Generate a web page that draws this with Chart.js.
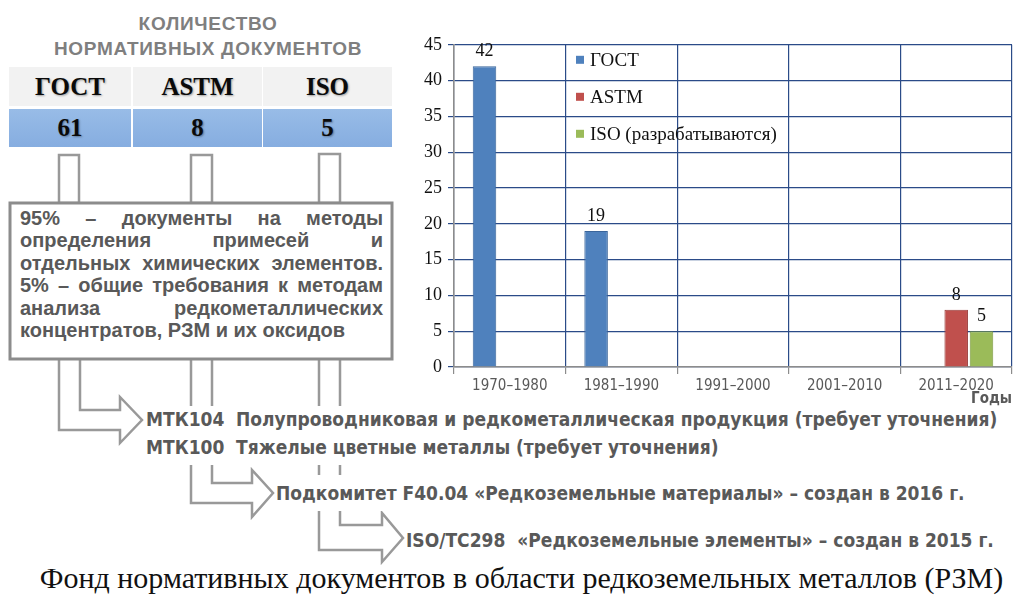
<!DOCTYPE html>
<html>
<head>
<meta charset="utf-8">
<script src="https://cdn.jsdelivr.net/npm/chart.js@4.4.0/dist/chart.umd.min.js"></script>
<style>
  html, body { margin: 0; padding: 0; background: #fff; }
  body { width: 1013px; height: 597px; position: relative; overflow: hidden; font-family: 'Liberation Sans', Arial, sans-serif; }
  #title { position: absolute; left: 0; top: 11px; width: 416px; text-align: center; font-weight: bold; font-size: 19px; line-height: 25px; color: #7f7f7f; letter-spacing: 0.7px; }
  .cell { position: absolute; text-align: center; font-family: 'Liberation Serif', 'Times New Roman', serif; font-weight: bold; font-size: 25px; color: #0a0a0a; text-shadow: 1px 1px 2px rgba(0,0,0,0.35); }
  .hd { top: 67px; height: 39px; line-height: 39px; background: #f2f2f2; }
  .vl { top: 109px; height: 38px; line-height: 38px; background: linear-gradient(#98bce7, #86ade0); }
  #pipes { position: absolute; left: 0; top: 0; z-index: 1; }
  #box { position: absolute; left: 20px; top: 207px; width: 363px; z-index: 2; font-weight: bold; font-size: 20px; line-height: 22.4px; color: #595959; }
  #box div { text-align: justify; text-align-last: justify; }
  #box div.last { text-align-last: left; }
  .nar { position: absolute; z-index: 2; background: #fff; white-space: nowrap; color: #595959; font-weight: bold; font-size: 19px;
         font-family: 'Liberation Sans Narrow', 'DejaVu Sans Condensed', 'Liberation Sans', sans-serif; font-stretch: condensed; }
  .k { display: inline-block; width: 90px; }
  #chartBox { position: absolute; left: 410px; top: 28px; width: 603px; height: 380px; z-index: 3; }
  #caption { position: absolute; left: 30px; top: 560px; width: 983px; text-align: center; font-family: 'Liberation Serif', 'Times New Roman', serif; font-size: 30px; line-height: 36px; color: #111; }
</style>
</head>
<body>
<div id="title">КОЛИЧЕСТВО<br>НОРМАТИВНЫХ ДОКУМЕНТОВ</div>
<div id="table"></div>

<svg id="pipes" width="1013" height="597">
  <g fill="#fff" stroke="#999" stroke-width="2.5">
    <rect x="59" y="155" width="20" height="48"/>
    <rect x="191" y="155" width="21" height="48"/>
    <rect x="319" y="154" width="21" height="49"/>
    <polyline points="319,358 319,550 382,550 382,562 403,538 382,513 382,525 340,525 340,358"/>
    <polyline points="191,358 191,503 252,503 252,517 273,493 252,470 252,483 212,483 212,358"/>
    <polyline points="59,358 59,430 120,430 120,443 142,420 120,397 120,410 80,410 80,358"/>
  </g>
  <rect x="10" y="203" width="382" height="156" fill="#fff" stroke="#8c8c8c" stroke-width="3"/>
</svg>

<div id="box">
  <div>95% – документы на методы</div>
  <div>определения примесей и</div>
  <div>отдельных химических элементов.</div>
  <div>5% – общие требования к методам</div>
  <div>анализа редкометаллических</div>
  <div class="last">концентратов, РЗМ и их оксидов</div>
</div>

<div class="nar" style="left:146px; top:406px; width:864px; line-height:27.5px; padding-bottom:4px;">
  <div><span class="k">МТК104</span>Полупроводниковая и редкометаллическая продукция (требует уточнения)</div>
  <div><span class="k">МТК100</span>Тяжелые цветные металлы (требует уточнения)</div>
</div>
<div class="nar" style="left:276px; top:475px; line-height:36px; padding-right:4px;">Подкомитет F40.04 «Редкоземельные материалы» – создан в 2016 г.</div>
<div class="nar" style="left:406px; top:526px; line-height:28px; padding-right:4px;">ISO/TC298&nbsp; «Редкоземельные элементы» – создан в 2015 г.</div>

<div id="chartBox"><canvas id="barChart" width="603" height="380"></canvas></div>

<div id="caption">Фонд нормативных документов в области редкоземельных металлов (РЗМ)</div>

<script>
// Data
const tableHeads = ['ГОСТ', 'ASTM', 'ISO'];
const tableTotals = [61, 8, 5];

const periods = ['1970–1980', '1981–1990', '1991–2000', '2001–2010', '2011–2020'];
const seriesLabels = ['ГОСТ', 'ASTM', 'ISO (разрабатываются)'];
const gostValues = [42, 19, null, null, null];
const astmValues = [null, null, null, null, 8];
const isoValues = [null, null, null, null, 5];
const yTicks = [0, 5, 10, 15, 20, 25, 30, 35, 40, 45];

// Table of totals
const cols = [[9, 122], [133, 129], [263, 129]];
const table = document.getElementById('table');
tableHeads.forEach(function(h, i) {
    const hd = document.createElement('div');
    hd.className = 'cell hd';
    hd.style.left = cols[i][0] + 'px';
    hd.style.width = cols[i][1] + 'px';
    hd.textContent = h;
    table.appendChild(hd);
    const vl = document.createElement('div');
    vl.className = 'cell vl';
    vl.style.left = cols[i][0] + 'px';
    vl.style.width = cols[i][1] + 'px';
    vl.textContent = tableTotals[i];
    table.appendChild(vl);
});

const serif = "'Liberation Serif', 'Times New Roman', serif";
const narrow = "'Liberation Sans Narrow', 'DejaVu Sans Condensed', 'Liberation Sans', sans-serif";
const gridBlue = '#2b4b88';
const axisGray = '#8c8c8c';

// value labels above bars
const barLabels = {
    id: 'barLabels',
    afterDatasetsDraw(chart) {
        const ctx = chart.ctx;
        ctx.save();
        ctx.font = '18px ' + serif;
        ctx.fillStyle = '#111';
        ctx.textAlign = 'center';
        ctx.textBaseline = 'alphabetic';
        chart.data.datasets.forEach(function(ds, i) {
            chart.getDatasetMeta(i).data.forEach(function(bar, j) {
                const v = ds.data[j];
                if (v == null) return;
                ctx.fillText(String(v), bar.x, bar.y - 10);
            });
        });
        ctx.restore();
    }
};

// legend inside the plot area
const innerLegend = {
    id: 'innerLegend',
    afterDraw(chart) {
        const ctx = chart.ctx;
        const area = chart.chartArea;
        ctx.save();
        ctx.font = '19px ' + serif;
        ctx.textBaseline = 'middle';
        ctx.textAlign = 'left';
        chart.data.datasets.forEach(function(ds, i) {
            const x = area.left + 126;
            const y = area.top + 15 + i * 37;
            ctx.fillStyle = ds.backgroundColor;
            ctx.fillRect(x - 4, y - 4, 8, 8);
            ctx.fillStyle = '#111';
            ctx.fillText(ds.label, x + 10, y + 1);
        });
        ctx.restore();
    }
};

const ctx = document.getElementById('barChart').getContext('2d');
new Chart(ctx, {
    type: 'bar',
    data: {
        labels: periods,
        datasets: [{
            label: seriesLabels[0],
            data: gostValues,
            backgroundColor: '#4f81bd',
            borderColor: '#3a659b',
            borderWidth: 1
        }, {
            label: seriesLabels[1],
            data: astmValues,
            backgroundColor: '#c0504d',
            borderColor: '#983c3a',
            borderWidth: 1
        }, {
            label: seriesLabels[2],
            data: isoValues,
            backgroundColor: '#9bbb59',
            borderColor: '#7c9a42',
            borderWidth: 1
        }]
    },
    options: {
        responsive: false,
        animation: false,
        categoryPercentage: 0.68,
        barPercentage: 0.93,
        layout: { padding: { top: 14, right: 1, left: 0, bottom: 0 } },
        plugins: {
            legend: { display: false },
            tooltip: { enabled: false }
        },
        scales: {
            x: {
                grid: { color: gridBlue, lineWidth: 1.2, offset: true, tickColor: axisGray, tickLength: 7 },
                border: { color: axisGray, width: 1.5 },
                ticks: { color: '#595959', font: { family: narrow, size: 15 }, padding: 3, maxRotation: 0 },
                title: { display: true, text: 'Годы', align: 'end', color: '#595959',
                         font: { family: narrow, size: 15, weight: 'bold' }, padding: { top: 0, bottom: 0 } },
                afterFit(scale) { scale.height = 41; }
            },
            y: {
                min: 0,
                max: 45,
                afterBuildTicks(scale) { scale.ticks = yTicks.map(function(v) { return { value: v }; }); },
                grid: { color: gridBlue, lineWidth: 1.2, tickLength: 6 },
                border: { color: axisGray, width: 1.5 },
                ticks: { color: '#111', font: { family: serif, size: 18 }, padding: 6 },
                afterFit(scale) { scale.width = 44; }
            }
        }
    },
    plugins: [barLabels, innerLegend]
});
</script>
</body>
</html>
